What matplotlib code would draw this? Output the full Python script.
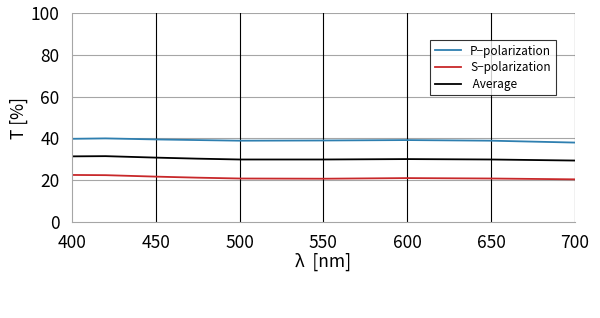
import numpy as np
from matplotlib import pyplot as plt

plt.rcParams['font.family'] = ['Noto Sans CJK JP', 'DejaVu Sans']

#wavelength samples [nm]
wavelength = [400, 420, 450, 475, 500, 550, 600, 650, 700]
#transmittance [%]
p_pol = [39.8, 40.0, 39.5, 39.2, 38.9, 39.0, 39.2, 38.9, 38.0]
s_pol = [22.5, 22.4, 21.7, 21.2, 20.8, 20.7, 21.0, 20.8, 20.4]
average = [31.4, 31.5, 30.8, 30.3, 29.9, 29.9, 30.1, 29.9, 29.4]

fig = plt.figure(figsize=(6, 3.18), dpi=100)
ax = fig.add_axes([0.12, 0.302, 0.838, 0.657])

ax.plot(wavelength, p_pol, color='#2e7fb0', lw=1.3, label='P\u2212polarization')
ax.plot(wavelength, s_pol, color='#c8282a', lw=1.3, label='S\u2212polarization')
ax.plot(wavelength, average, color='black', lw=1.3, label=' Average')

ax.set_xlim(400, 700)
ax.set_ylim(0, 100)
ax.set_xticks(np.arange(400, 701, 50))
ax.set_yticks(np.arange(0, 101, 20))
for y in range(20, 101, 20):
    ax.axhline(y, color='#a6a6a6', lw=0.8, zorder=0)
for x in range(450, 701, 50):
    ax.axvline(x, color='black', lw=0.8, zorder=0)
for s in ['top', 'right']:
    ax.spines[s].set_visible(False)
ax.spines['left'].set_color('#a6a6a6')
ax.spines['bottom'].set_color('#a6a6a6')
ax.tick_params(length=0, labelsize=12.5, pad=9)

ax.set_xlabel('λ  [nm]', fontsize=12.5, labelpad=0)
ax.set_ylabel('T [%]', fontsize=12.5, labelpad=2)

leg = ax.legend(loc='upper left', bbox_to_anchor=(0.7, 0.9), fontsize=8.5,
                frameon=True, fancybox=False, edgecolor='black', handlelength=2.2,
                borderpad=0.4, labelspacing=0.3)
leg.get_frame().set_linewidth(0.8)

fig.savefig('out.png')
